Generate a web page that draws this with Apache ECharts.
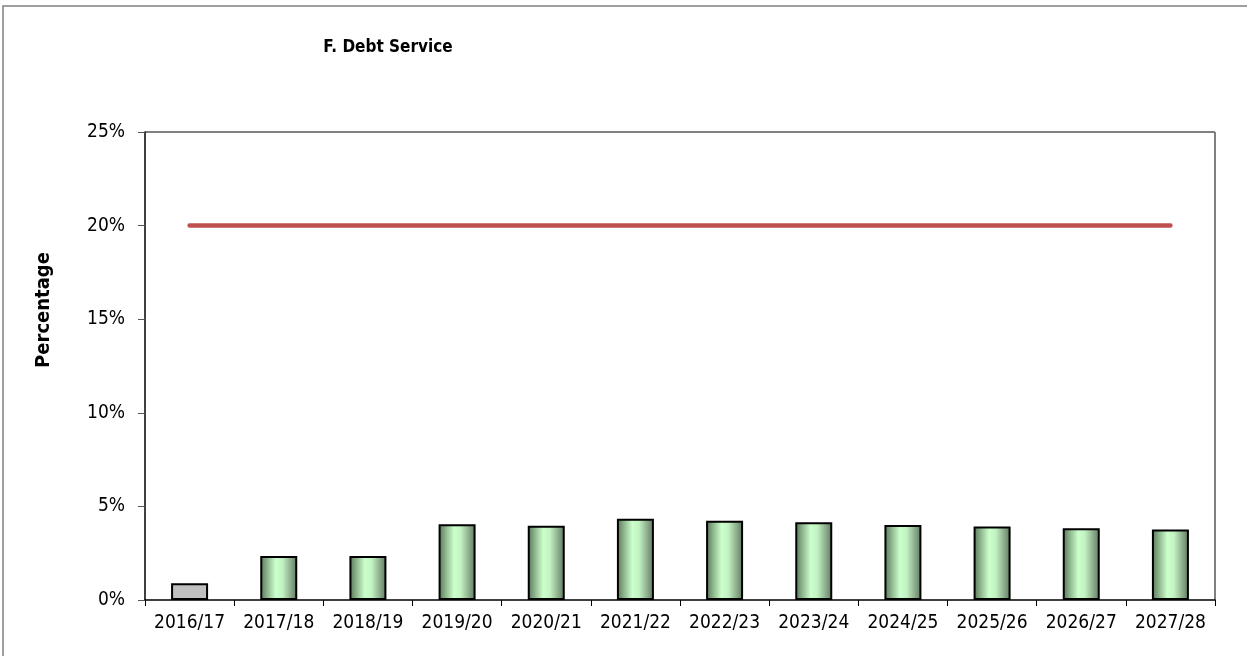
<!DOCTYPE html>
<html><head><meta charset="utf-8">
<script src="https://cdn.jsdelivr.net/npm/echarts@6/dist/echarts.min.js"></script>
<style>html,body{margin:0;padding:0;background:#fff}#c{width:1247px;height:656px}</style>
</head><body><div id="c"></div>
<script>
const categories = ['2016/17','2017/18','2018/19','2019/20','2020/21','2021/22','2022/23','2023/24','2024/25','2025/26','2026/27','2027/28'];
const debtService = [0.9, 2.35, 2.35, 4.04, 3.97, 4.34, 4.24, 4.15, 4.0, 3.92, 3.83, 3.76];
const threshold = [20,20,20,20,20,20,20,20,20,20,20,20];
const yTicks = [0, 5, 10, 15, 20, 25];

const font = '"DejaVu Sans Condensed", "DejaVu Sans", sans-serif';
const green = {type:'linear', x:0, y:0, x2:1, y2:0, colorStops:[
  {offset:0, color:'#557355'}, {offset:0.2, color:'#90b890'}, {offset:0.42, color:'#ccffcc'},
  {offset:0.6, color:'#c2f2c2'}, {offset:0.85, color:'#86a486'}, {offset:1, color:'#5c785c'}]};

const chart = echarts.init(document.getElementById('c'), null, {renderer:'canvas'});
chart.setOption({
  animation:false,
  backgroundColor:'#fff',
  graphic:[
    {type:'rect', shape:{x:3, y:6, width:1300, height:700}, style:{fill:'none', stroke:'#808080', lineWidth:1.5}, z:-1},
    {type:'text', x:388, y:48, style:{text:'F. Debt Service', font:'bold 17px '+font, fill:'#000', align:'center', verticalAlign:'middle'}},
    {type:'text', x:44, y:310, rotation:Math.PI/2, style:{text:'Percentage', font:'bold 20px '+font, fill:'#000', align:'center', verticalAlign:'middle'}},
    {type:'line', shape:{x1:145, y1:132, x2:1215, y2:132}, style:{stroke:'#808080', lineWidth:2}},
    {type:'line', shape:{x1:1215, y1:132, x2:1215, y2:600}, style:{stroke:'#808080', lineWidth:2}}
  ],
  grid:{left:145, right:32, top:132, bottom:56, containLabel:false},
  xAxis:{type:'category', data:categories, boundaryGap:true,
    axisLine:{lineStyle:{color:'#000', width:1.5}},
    axisTick:{show:true, alignWithLabel:false, length:6, lineStyle:{color:'#000'}},
    axisLabel:{color:'#000', fontFamily:font, fontSize:19, margin:14, interval:0}
  },
  yAxis:{type:'value', min:0, max:25, interval:5,
    axisLine:{show:true, lineStyle:{color:'#000', width:1.5}},
    axisTick:{show:true, length:7, lineStyle:{color:'#555'}},
    splitLine:{show:false},
    axisLabel:{color:'#000', fontFamily:font, fontSize:19, margin:20, formatter: v => yTicks.includes(v) ? v + '%' : ''}
  },
  series:[
    {type:'bar', data: debtService.map((v,i) => ({value:v, itemStyle:{color: i===0 ? '#c0c0c0' : green}})),
     barWidth:37, itemStyle:{borderColor:'#000', borderWidth:2}},
    {type:'line', data: threshold, symbol:'none', lineStyle:{color:'#c0504d', width:4.5, cap:'round'}, z:5}
  ]
});
</script></body></html>
